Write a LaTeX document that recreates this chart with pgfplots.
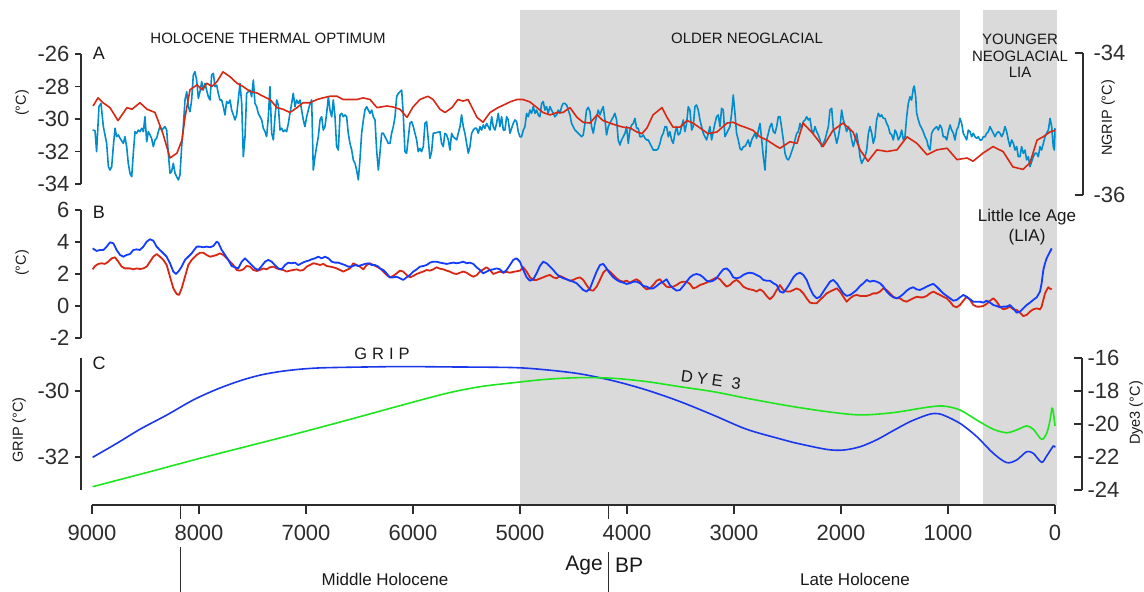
\documentclass[border=0pt]{standalone}
\usepackage{fontspec}
\setmainfont{Liberation Sans}
\usepackage{pgfplots}
\pgfplotsset{compat=1.18}
\definecolor{ablue}{RGB}{0,140,205}
\definecolor{ared}{RGB}{215,40,20}
\definecolor{bblue}{RGB}{20,60,255}
\definecolor{cblue}{RGB}{25,55,235}
\definecolor{cgreen}{RGB}{30,230,30}
\definecolor{shade}{RGB}{218,218,218}
\definecolor{axc}{RGB}{45,45,45}
\definecolor{txt}{RGB}{25,25,25}
\pgfplotsset{
  dat/.style={scale only axis, width=974pt, xmin=0, xmax=9103, x dir=reverse, hide axis, clip=false, anchor=north},
  sc/.style={scale only axis, width=10pt, xmin=0, xmax=1, axis x line=none,
    axis line style={-, line width=1.3pt, draw=axc},
    every outer y axis line/.append style={-},
    major tick style={line width=1.3pt, draw=axc},
    yticklabel style={font=\fontsize{22}{26}\selectfont, text=axc}},
}
\begin{document}
\begin{tikzpicture}
\path[use as bounding box] (0pt,0pt) rectangle (1144pt,592pt);

% base axis: shading and age axis
\begin{axis}[scale only axis, width=963pt, height=495pt, anchor=north, at={(573.5pt,582pt)},
  xmin=0, xmax=9000, x dir=reverse, ymin=0, ymax=1, axis y line=none, axis x line*=bottom,
  axis on top, clip=false,
  axis line style={-, line width=1.3pt, draw=axc}, every outer x axis line/.append style={-},
  xtick={0,1000,2000,3000,4000,5000,6000,7000,8000,9000},
  xticklabels={0,1000,2000,3000,4000,5000,6000,7000,8000,9000},
  extra x ticks={8170,4170}, extra x tick labels={,},
  extra x tick style={major tick length=14pt},
  tick align=outside, major tick length=9pt, major tick style={line width=1.3pt, draw=axc},
  xticklabel style={font=\fontsize{22}{26}\selectfont, text=axc, yshift=-8pt}]
\addplot[fill=shade, draw=none] coordinates {(5000,0) (5000,1) (890,1) (890,0)} -- cycle;
\addplot[fill=shade, draw=none] coordinates {(670,0) (670,1) (-20,1) (-20,0)} -- cycle;
\draw[line width=1.3pt, axc] (axis cs:8170,-0.085) -- (axis cs:8170,-0.18);
\draw[line width=1.3pt, axc] (axis cs:4170,-0.094) -- (axis cs:4170,-0.18);
\end{axis}

% Panel A data
\begin{axis}[dat, at={(568pt,538pt)}, height=130pt, ymin=-34, ymax=-26]
\addplot[ablue, line width=1.6pt, line join=round] coordinates {
(8994,-30.68)(8972,-30.72)(8957,-32.01)(8935,-29.24)(8916,-29.04)(8894,-30.47)(8863,-31.50)(8847,-32.93)(8832,-33.14)(8816,-32.93)(8801,-31.70)(8785,-30.57)(8770,-31.09)(8754,-30.98)(8738,-31.19)(8707,-31.50)(8692,-31.09)(8676,-31.70)(8661,-32.73)(8645,-33.34)(8629,-33.55)(8614,-32.11)(8598,-30.78)(8583,-30.88)(8567,-30.68)(8552,-30.78)(8536,-30.57)(8520,-30.78)(8505,-29.86)(8489,-31.40)(8474,-30.78)(8458,-30.98)(8443,-31.19)(8427,-31.70)(8411,-31.29)(8396,-31.19)(8380,-30.78)(8365,-30.47)(8349,-30.68)(8333,-30.57)(8318,-30.47)(8302,-30.68)(8287,-32.11)(8271,-33.34)(8256,-33.24)(8240,-32.73)(8224,-33.34)(8209,-33.55)(8193,-33.75)(8178,-33.45)(8162,-31.70)(8147,-30.47)(8131,-28.83)(8115,-28.32)(8100,-29.24)(8084,-29.55)(8069,-28.83)(8053,-27.29)(8038,-27.09)(8022,-27.60)(8006,-28.73)(7991,-28.32)(7975,-27.70)(7960,-28.22)(7944,-27.81)(7929,-28.22)(7913,-28.63)(7897,-28.83)(7882,-27.29)(7866,-27.19)(7851,-28.01)(7835,-27.91)(7820,-28.42)(7804,-28.83)(7788,-28.83)(7773,-29.24)(7757,-29.75)(7742,-28.93)(7726,-29.04)(7710,-28.83)(7695,-29.45)(7679,-29.75)(7664,-30.06)(7648,-29.75)(7633,-28.83)(7617,-27.81)(7601,-29.04)(7586,-32.32)(7570,-31.09)(7555,-28.42)(7539,-28.32)(7524,-28.22)(7508,-28.63)(7492,-27.60)(7477,-29.04)(7461,-29.24)(7446,-29.65)(7430,-29.86)(7414,-30.06)(7399,-30.57)(7383,-30.78)(7368,-31.09)(7352,-29.86)(7337,-28.01)(7321,-30.88)(7305,-31.29)(7290,-29.86)(7274,-28.83)(7259,-29.14)(7243,-30.68)(7228,-30.57)(7212,-30.78)(7196,-30.68)(7181,-30.78)(7165,-30.27)(7150,-29.65)(7134,-29.04)(7119,-28.42)(7103,-29.24)(7087,-28.83)(7072,-29.04)(7056,-28.83)(7041,-29.45)(7025,-30.06)(7010,-30.47)(6994,-29.86)(6978,-29.45)(6963,-29.04)(6947,-28.83)(6932,-33.14)(6916,-32.32)(6901,-31.70)(6885,-31.09)(6869,-30.06)(6854,-29.86)(6838,-30.68)(6823,-30.47)(6807,-29.65)(6791,-28.63)(6776,-29.45)(6760,-29.86)(6745,-28.83)(6729,-29.86)(6714,-31.70)(6698,-31.91)(6682,-29.75)(6667,-29.65)(6651,-29.86)(6636,-29.75)(6620,-29.86)(6605,-30.88)(6589,-31.50)(6573,-31.91)(6558,-32.52)(6542,-32.73)(6527,-33.14)(6511,-33.75)(6496,-32.52)(6480,-30.88)(6464,-30.06)(6449,-29.45)(6433,-29.24)(6418,-29.45)(6402,-29.65)(6386,-29.45)(6371,-29.86)(6355,-30.06)(6340,-31.91)(6324,-33.14)(6309,-32.11)(6293,-30.88)(6277,-30.88)(6262,-31.09)(6246,-31.29)(6231,-31.50)(6215,-31.50)(6200,-30.88)(6184,-30.47)(6168,-29.86)(6153,-28.63)(6137,-28.42)(6122,-28.32)
(6106,-28.22)(6091,-29.75)(6075,-32.01)(6060,-32.11)(6029,-30.27)(6013,-30.16)(5997,-30.47)(5966,-31.29)(5951,-32.01)(5935,-31.81)(5920,-32.01)(5904,-31.70)(5888,-30.27)(5873,-30.16)(5857,-31.29)(5842,-32.42)(5826,-32.01)(5811,-30.88)(5779,-30.84)(5748,-30.78)(5733,-31.50)(5717,-31.70)(5702,-30.88)(5686,-30.98)(5670,-31.29)(5655,-31.91)(5639,-30.88)(5624,-31.09)(5592,-31.29)(5577,-30.88)(5561,-30.47)(5546,-29.75)(5530,-30.47)(5515,-30.88)(5499,-31.50)(5483,-32.11)(5468,-31.70)(5452,-30.88)(5437,-30.68)(5421,-30.57)(5406,-30.57)(5390,-30.88)(5374,-30.47)(5359,-30.68)(5343,-30.37)(5328,-30.57)(5312,-30.27)(5281,-30.68)(5265,-29.86)(5250,-30.47)(5234,-30.68)(5219,-30.27)(5203,-29.65)(5188,-30.47)(5172,-29.86)(5156,-30.68)(5141,-30.68)(5125,-29.86)(5110,-30.06)(5094,-30.88)(5063,-30.27)(5047,-30.06)(5032,-30.16)(5016,-30.78)(5001,-31.09)(4985,-31.09)(4969,-30.68)(4954,-30.47)(4938,-29.65)(4923,-29.86)(4907,-29.45)(4892,-29.65)(4876,-29.24)(4860,-29.65)(4845,-29.45)(4829,-29.75)(4814,-29.86)(4798,-29.04)(4783,-28.93)(4767,-29.45)(4752,-29.24)(4736,-29.65)(4720,-29.24)(4705,-29.45)(4689,-29.65)(4674,-29.86)(4658,-29.75)(4642,-29.45)(4627,-29.65)(4611,-29.24)(4596,-29.04)(4580,-29.04)(4564,-29.14)(4549,-29.45)(4533,-29.75)(4518,-30.27)(4502,-30.47)(4487,-30.68)(4471,-30.78)(4440,-30.98)(4424,-31.09)(4409,-30.98)(4393,-30.27)(4378,-29.45)(4362,-29.28)(4346,-29.55)(4331,-30.47)(4315,-30.88)(4300,-30.27)(4284,-29.86)(4269,-29.45)(4253,-29.75)(4237,-29.45)(4222,-29.24)(4206,-30.06)(4191,-30.98)(4175,-30.47)(4160,-30.27)(4144,-30.06)(4128,-29.86)(4113,-29.65)(4097,-30.06)(4082,-31.29)(4066,-31.60)(4051,-31.29)(4035,-31.09)(4019,-30.88)(4004,-30.47)(3988,-31.50)(3973,-30.68)(3957,-30.37)(3941,-30.27)(3926,-29.96)(3910,-30.57)(3895,-30.57)(3879,-31.09)(3864,-31.09)(3848,-30.98)(3832,-31.19)(3817,-31.29)(3801,-31.29)(3786,-31.50)(3770,-31.70)(3755,-31.91)(3723,-31.91)(3708,-31.81)(3692,-31.50)(3677,-31.09)(3661,-30.88)(3645,-30.47)(3630,-30.47)(3614,-31.09)(3599,-30.78)(3583,-31.29)(3568,-31.50)(3552,-30.88)(3536,-30.47)(3521,-30.98)(3505,-30.88)(3490,-30.47)(3474,-30.06)(3459,-30.78)(3443,-30.27)(3427,-29.24)(3412,-29.45)(3396,-30.68)(3381,-30.47)(3365,-29.24)(3350,-29.14)(3334,-29.45)(3318,-30.06)(3303,-30.47)(3287,-30.88)(3272,-31.09)(3256,-31.29)(3240,-30.88)(3225,-30.47)(3209,-31.29)(3194,-30.78)(3178,-30.27)(3163,-29.86)(3147,-29.75)(3131,-30.47)(3116,-29.34)(3100,-29.45)(3085,-31.09)(3069,-30.88)(3054,-30.68)(3038,-30.47)(3022,-29.65)(3007,-28.52)(2991,-29.65)(2976,-30.88)(2960,-31.29)(2944,-31.81)(2929,-31.91)(2913,-31.70)(2898,-31.70)(2882,-31.50)(2867,-31.29)(2851,-31.70)(2835,-31.29)(2820,-31.09)(2804,-30.88)(2789,-31.19)
(2757,-30.27)(2741,-31.29)(2726,-32.32)(2710,-33.14)(2695,-31.29)(2679,-30.88)(2664,-30.47)(2648,-30.27)(2632,-30.78)(2617,-30.88)(2601,-30.47)(2586,-29.86)(2570,-29.86)(2554,-30.57)(2539,-31.29)(2523,-32.11)(2508,-32.42)(2492,-32.52)(2477,-32.32)(2461,-32.01)(2445,-31.70)(2430,-31.29)(2414,-30.88)(2399,-30.78)(2383,-30.27)(2368,-30.57)(2352,-30.16)(2336,-30.06)(2321,-29.86)(2305,-30.06)(2290,-29.96)(2274,-30.68)(2259,-30.88)(2243,-30.47)(2227,-30.78)(2212,-30.98)(2196,-31.29)(2181,-31.70)(2165,-31.50)(2150,-31.29)(2134,-30.88)(2118,-30.47)(2103,-29.45)(2087,-29.34)(2072,-30.57)(2056,-30.98)(2040,-31.50)(2025,-31.09)(2009,-30.47)(1994,-29.45)(1978,-30.06)(1963,-30.37)(1947,-30.78)(1931,-30.47)(1916,-30.68)(1900,-31.29)(1885,-31.70)(1869,-31.29)(1854,-30.88)(1838,-31.50)(1822,-32.32)(1807,-32.73)(1791,-32.52)(1776,-32.32)(1760,-31.91)(1744,-30.88)(1729,-30.47)(1713,-30.88)(1698,-31.50)(1682,-31.09)(1667,-30.06)(1651,-29.65)(1635,-29.86)(1620,-29.75)(1604,-29.96)(1589,-29.96)(1573,-30.27)(1558,-30.47)(1542,-30.88)(1526,-30.98)(1511,-31.29)(1495,-30.68)(1480,-30.88)(1464,-31.29)(1449,-31.09)(1433,-30.68)(1417,-31.29)(1402,-31.09)(1386,-29.86)(1371,-29.04)(1355,-28.63)(1340,-28.83)(1324,-28.11)(1315,-27.97)(1302,-28.63)(1293,-29.65)(1277,-30.06)(1262,-30.37)(1246,-30.57)(1231,-30.78)(1215,-31.09)(1199,-31.29)(1184,-31.70)(1168,-31.91)(1153,-30.88)(1137,-30.68)(1122,-30.57)(1106,-30.47)(1090,-30.68)(1075,-30.37)(1059,-30.57)(1044,-31.09)(1028,-31.09)(1012,-31.29)(997,-30.78)(981,-30.37)(966,-30.68)(950,-30.88)(935,-31.29)(919,-30.68)(903,-30.47)(888,-29.96)(872,-30.27)(857,-30.88)(841,-31.09)(826,-31.29)(810,-30.68)(794,-30.78)(779,-31.09)(763,-30.88)(748,-31.09)(732,-31.19)(717,-31.09)(701,-31.29)(685,-31.29)(670,-31.09)(654,-31.09)(639,-30.88)(623,-30.78)(607,-30.47)(592,-30.68)(576,-30.88)(561,-31.09)(545,-30.88)(530,-30.78)(514,-30.88)(498,-31.09)(483,-30.88)(467,-30.47)(452,-30.78)(436,-31.29)(421,-31.70)(405,-31.29)(389,-31.50)(374,-31.91)(358,-31.70)(343,-32.32)(327,-32.32)(312,-31.70)(296,-32.11)(280,-31.91)(265,-32.52)(249,-32.32)(234,-32.93)(218,-32.63)(203,-32.32)(187,-32.11)(171,-32.11)(156,-32.32)(140,-31.70)(125,-31.91)(109,-31.50)(93,-31.09)(78,-30.88)(62,-30.68)(46,-29.96)(31,-30.47)(16,-31.70)(6,-31.91)(0,-30.57)};
\addplot[ared, line width=1.6pt, line join=round] coordinates {
(8990,-29.2)(8944,-28.7)(8897,-29.0)(8832,-29.3)(8757,-30.1)(8673,-29.3)(8626,-29.4)(8552,-29.0)(8486,-29.4)(8411,-29.6)(8337,-30.9)(8271,-32.4)(8206,-32.1)(8159,-31.3)(8131,-29.9)(8084,-28.2)(8019,-27.9)(7972,-28.2)(7925,-27.8)(7879,-28.0)(7832,-27.7)(7776,-27.1)(7710,-27.4)(7645,-27.8)(7589,-28.0)(7524,-28.3)(7458,-28.4)(7402,-28.6)(7337,-28.8)(7271,-29.3)(7215,-29.4)(7150,-29.6)(7084,-29.3)(7028,-29.0)(6963,-29.0)(6897,-28.8)(6841,-28.7)(6776,-28.6)(6710,-28.6)(6654,-28.8)(6589,-28.8)(6523,-28.8)(6467,-28.7)(6402,-28.8)(6337,-29.3)(6243,-29.2)(6187,-29.26)(6122,-29.4)(6056,-29.9)(6000,-29.26)(5935,-28.8)(5860,-28.6)(5813,-28.8)(5748,-29.4)(5701,-29.6)(5636,-29.3)(5580,-28.8)(5533,-28.9)(5486,-28.8)(5402,-29.9)(5346,-30.2)(5280,-29.6)(5206,-29.3)(5140,-29.1)(5094,-28.95)(5028,-28.8)(4972,-28.8)(4907,-28.95)(4841,-29.3)(4785,-29.6)(4720,-29.75)(4654,-29.6)(4598,-29.6)(4533,-29.3)(4467,-29.9)(4411,-30.2)(4346,-30.25)(4280,-29.75)(4224,-30.1)(4159,-30.25)(4093,-30.4)(4037,-30.5)(3972,-30.55)(3907,-30.8)(3860,-30.9)(3813,-30.55)(3757,-29.75)(3673,-29.3)(3626,-29.9)(3570,-30.5)(3505,-30.5)(3439,-30.1)(3383,-30.25)(3318,-30.55)(3243,-30.9)(3159,-30.8)(3065,-30.25)(3009,-30.2)(2944,-30.4)(2879,-30.55)(2822,-30.7)(2757,-31.1)(2692,-31.3)(2598,-31.7)(2570,-31.8)(2477,-31.4)(2411,-31.5)(2355,-30.25)(2262,-30.9)(2168,-31.7)(2075,-30.7)(1981,-30.25)(1888,-30.8)(1822,-31.9)(1748,-32.6)(1664,-31.9)(1570,-32.0)(1477,-31.9)(1383,-31.1)(1290,-31.5)(1196,-32.2)(1103,-31.9)(1009,-31.8)(916,-32.5)(822,-32.4)(766,-32.6)(673,-32.1)(579,-31.7)(486,-32.0)(393,-32.95)(299,-33.1)(234,-32.7)(168,-31.3)(112,-31.1)(47,-30.8)(0,-30.7)};
\end{axis}

% Panel B data
\begin{axis}[dat, at={(568pt,382pt)}, height=128pt, ymin=-2, ymax=6]
\addplot[ared, line width=1.8pt, line join=round] coordinates {
(8994,2.29)(8972,2.50)(8941,2.63)(8910,2.67)(8879,2.63)(8848,2.77)(8816,2.98)(8785,3.04)(8754,2.77)(8723,2.46)(8692,2.35)(8645,2.35)(8614,2.29)(8583,2.35)(8552,2.31)(8520,2.35)(8489,2.46)(8458,2.77)(8427,3.08)(8396,3.25)(8365,3.08)(8333,2.88)(8302,2.56)(8271,1.83)(8240,1.10)(8209,0.75)(8187,0.69)(8162,1.10)(8131,1.83)(8100,2.56)(8069,2.88)(8022,3.19)(7991,3.33)(7960,3.33)(7929,3.19)(7897,3.08)(7866,3.13)(7835,3.19)(7804,3.29)(7773,3.19)(7742,2.98)(7710,2.77)(7679,2.56)(7648,2.25)(7617,2.21)(7586,2.29)(7555,2.50)(7524,2.46)(7492,2.25)(7461,2.19)(7430,2.25)(7399,2.35)(7368,2.29)(7337,2.42)(7305,2.46)(7274,2.35)(7243,2.29)(7212,2.25)(7181,2.15)(7150,2.21)(7119,2.25)(7087,2.29)(7056,2.21)(7025,2.25)(6994,2.46)(6963,2.56)(6932,2.67)(6901,2.63)(6869,2.56)(6838,2.63)(6807,2.50)(6776,2.46)(6745,2.42)(6714,2.35)(6682,2.25)(6651,2.15)(6620,2.25)(6589,2.35)(6558,2.67)(6527,2.56)(6496,2.46)(6464,2.29)(6433,2.56)(6402,2.67)(6371,2.56)(6340,2.46)
(6309,2.35)(6278,2.15)(6247,1.94)(6216,1.79)(6184,1.88)(6153,2.04)(6122,2.21)(6091,2.15)(6060,1.94)(6029,1.79)(5997,1.88)(5966,2.00)(5935,2.08)(5904,2.15)(5873,2.25)(5842,2.21)(5811,2.29)(5779,2.42)(5748,2.33)(5717,2.29)(5686,2.21)(5655,2.15)(5624,2.04)(5592,2.00)(5561,2.08)(5530,2.15)(5499,2.08)(5468,1.94)(5437,1.83)(5406,1.92)(5374,2.15)(5343,2.29)(5312,2.42)(5281,2.25)(5250,2.00)(5219,2.08)(5188,2.15)(5156,2.08)(5125,2.13)(5094,2.08)(5063,2.13)(5032,2.17)(5001,2.21)(4969,2.42)(4938,2.15)(4907,1.79)(4876,1.63)(4845,1.63)(4814,1.71)(4783,1.79)(4752,1.88)(4720,1.94)(4689,1.79)(4658,1.73)(4627,1.88)(4596,1.79)(4564,1.67)(4533,1.58)(4502,1.63)(4471,1.73)(4440,1.79)(4409,1.63)(4378,1.31)(4346,1.00)(4315,0.96)(4284,1.21)(4253,1.63)(4222,2.08)(4191,2.29)(4160,2.15)(4128,1.94)(4097,1.73)(4066,1.58)(4035,1.52)(4004,1.58)(3973,1.46)(3941,1.58)(3910,1.67)(3879,1.52)(3848,1.21)(3817,1.04)(3786,1.10)(3755,1.31)(3723,1.58)(3692,1.67)(3661,1.42)(3630,1.21)(3599,1.17)(3568,1.21)(3536,1.31)(3505,1.46)(3474,1.52)(3443,1.52)(3412,1.38)(3381,1.10)(3350,1.17)(3318,1.31)(3287,1.38)(3256,1.46)(3225,1.58)(3194,1.67)(3163,1.79)(3131,1.67)(3100,1.42)(3069,1.21)(3038,1.31)(3007,1.52)(2976,1.63)(2944,1.46)(2913,1.21)(2882,1.10)(2851,1.04)(2820,1.00)(2789,0.90)
(2757,1.04)(2726,0.90)(2695,0.63)(2664,0.42)(2632,0.63)(2601,1.00)(2570,1.31)(2539,1.00)(2508,0.90)(2477,0.90)(2445,1.00)(2414,1.10)(2383,1.00)(2352,0.79)(2321,0.48)(2290,0.21)(2259,0.17)(2227,0.17)(2196,0.38)(2165,0.58)(2134,0.79)(2103,0.90)(2072,1.00)(2040,1.10)(2009,0.90)(1978,0.58)(1947,0.27)(1916,0.48)(1885,0.63)(1854,0.69)(1822,0.63)(1791,0.63)(1760,0.63)(1729,0.69)(1698,0.79)(1667,0.79)(1635,0.90)(1604,1.10)(1573,1.00)(1542,0.79)(1511,0.58)(1480,0.48)(1449,0.48)(1417,0.33)(1386,0.27)(1355,0.38)(1324,0.48)(1293,0.58)(1262,0.54)(1231,0.54)(1199,0.63)(1168,0.79)(1137,0.90)(1106,0.79)(1075,0.69)(1044,0.58)(1012,0.48)(981,0.27)(950,0.00)(919,-0.08)(888,0.06)(857,0.33)(826,0.58)(794,0.38)(763,0.06)(732,-0.04)(701,-0.04)(670,0.00)(639,0.13)(607,0.33)(576,0.48)(545,0.27)(514,-0.04)(483,-0.21)(452,-0.15)(421,-0.04)(389,-0.21)(358,-0.25)(327,-0.42)(296,-0.63)(265,-0.56)(234,-0.35)(203,-0.21)(171,-0.15)(140,-0.21)(125,-0.04)(109,0.38)(93,0.79)(78,1.00)(62,1.17)(46,1.08)(31,1.04)};
\addplot[bblue, line width=1.8pt, line join=round] coordinates {
(8994,3.60)(8957,3.44)(8925,3.50)(8894,3.50)(8863,3.71)(8832,3.98)(8801,3.92)(8770,3.50)(8738,3.19)(8707,3.08)(8676,3.19)(8645,3.25)(8614,3.50)(8583,3.54)(8552,3.50)(8520,3.71)(8489,4.02)(8458,4.17)(8427,4.08)(8396,3.71)(8365,3.50)(8333,3.29)(8302,3.08)(8271,2.67)(8240,2.15)(8215,2.00)(8193,2.15)(8162,2.46)(8131,2.88)(8100,3.08)(8069,3.29)(8022,3.71)(7991,3.71)(7960,3.67)(7929,3.71)(7897,3.67)(7866,3.75)(7835,4.02)(7820,3.96)(7788,3.50)(7757,3.19)(7726,2.88)(7695,2.50)(7664,2.42)(7633,2.35)(7601,2.77)(7570,2.98)(7539,2.77)(7508,2.56)(7477,2.35)(7446,2.25)(7414,2.50)(7383,2.77)(7352,2.88)(7321,2.77)(7290,2.56)(7259,2.35)(7228,2.29)(7196,2.56)(7165,2.71)(7134,2.67)(7103,2.71)(7072,2.56)(7041,2.67)(7010,2.77)(6978,2.83)(6947,2.92)(6916,2.98)(6885,3.08)(6854,2.98)(6823,3.08)(6791,2.98)(6760,2.77)(6729,2.71)(6698,2.71)(6667,2.63)(6636,2.56)(6605,2.46)(6573,2.46)(6542,2.56)(6511,2.50)(6480,2.56)(6449,2.63)(6418,2.67)(6386,2.56)(6355,2.56)(6324,2.46)
(6309,2.35)(6278,2.25)(6247,2.04)(6216,1.79)(6184,1.79)(6153,1.83)(6122,1.73)(6091,1.63)(6060,1.79)(6029,1.94)(5997,2.15)(5966,2.29)(5935,2.46)(5904,2.50)(5873,2.56)(5842,2.71)(5811,2.77)(5779,2.77)(5748,2.71)(5717,2.67)(5686,2.63)(5655,2.67)(5624,2.71)(5592,2.67)(5561,2.71)(5530,2.77)(5499,2.67)(5468,2.71)(5437,2.63)(5406,2.42)(5374,2.25)(5343,2.04)(5312,2.15)(5281,2.25)(5250,2.29)(5219,2.35)(5188,2.29)(5156,2.08)(5125,2.25)(5094,2.56)(5063,2.88)(5032,2.98)(5001,2.77)(4969,2.25)(4938,1.79)(4907,1.58)(4876,1.67)(4845,2.04)(4814,2.50)(4783,2.77)(4752,2.67)(4720,2.46)(4689,2.25)(4658,2.00)(4627,1.83)(4596,1.73)(4564,1.67)(4533,1.58)(4502,1.52)(4471,1.42)(4440,1.21)(4409,1.00)(4378,0.90)(4346,1.10)(4315,1.63)(4284,2.15)(4253,2.56)(4222,2.63)(4191,2.35)(4160,2.04)(4128,1.79)(4097,1.63)(4066,1.52)(4035,1.46)(4004,1.38)(3973,1.42)(3941,1.52)(3910,1.52)(3879,1.42)(3848,1.25)(3817,1.21)(3786,1.10)(3755,1.10)(3723,1.25)(3692,1.42)(3661,1.52)(3630,1.67)(3599,1.31)(3568,1.10)(3536,0.96)(3505,1.00)(3474,1.25)(3443,1.52)(3412,1.79)(3381,1.94)(3350,2.00)(3318,1.94)(3287,1.79)(3256,1.58)(3225,1.52)(3194,1.58)(3163,1.73)(3131,2.04)(3100,2.29)(3069,2.35)(3038,2.15)(3007,1.79)(2976,1.73)(2944,1.79)(2913,1.94)(2882,2.04)(2851,2.08)(2820,2.04)(2789,1.94)
(2757,1.83)(2726,1.63)(2695,1.58)(2664,1.58)(2632,1.42)(2601,1.31)(2570,0.90)(2539,0.83)(2508,1.10)(2477,1.42)(2445,1.79)(2414,2.00)(2383,2.08)(2352,1.94)(2321,1.63)(2290,1.10)(2259,0.69)(2227,0.48)(2196,0.58)(2165,0.90)(2134,1.21)(2103,1.52)(2072,1.63)(2040,1.42)(2009,1.10)(1978,0.79)(1947,0.63)(1916,0.69)(1885,0.83)(1854,1.00)(1822,1.25)(1791,1.42)(1760,1.63)(1729,1.52)(1698,1.58)(1667,1.52)(1635,1.42)(1604,1.21)(1573,0.90)(1542,0.69)(1511,0.54)(1480,0.48)(1449,0.58)(1417,0.75)(1386,0.96)(1355,1.10)(1324,1.17)(1293,1.04)(1262,1.00)(1231,1.10)(1199,1.21)(1168,1.31)(1137,1.38)(1106,1.21)(1075,1.00)(1044,0.79)(1012,0.63)(981,0.48)(950,0.33)(919,0.38)(888,0.54)(857,0.69)(826,0.58)(794,0.42)(763,0.27)(732,0.27)(701,0.27)(670,0.21)(639,0.33)(607,0.21)(576,0.06)(545,0.00)(514,-0.08)(483,-0.04)(452,-0.04)(421,0.06)(389,-0.15)(358,-0.42)(327,-0.35)(296,-0.15)(265,0.06)(234,0.21)(203,0.38)(171,0.54)(140,0.90)(125,1.42)(109,2.25)(93,2.67)(78,2.98)(62,3.19)(46,3.40)(31,3.60)};
\end{axis}

% Panel C data: GRIP
\begin{axis}[dat, at={(568pt,234pt)}, height=132pt, ymin=-33, ymax=-29]
\addplot[cblue, line width=1.6pt, smooth, tension=0.5] coordinates {
(8994,-32.01)(8770,-31.59)(8552,-31.16)(8302,-30.73)(8053,-30.27)(7835,-29.95)(7617,-29.69)(7430,-29.52)(7243,-29.41)(7056,-29.34)(6869,-29.30)(6589,-29.28)(6122,-29.26)(5686,-29.27)(5063,-29.29)(4752,-29.36)(4440,-29.48)(4128,-29.69)(3817,-29.97)(3505,-30.32)(3194,-30.73)(2882,-31.16)(2571,-31.45)(2445,-31.56)(2134,-31.77)(1978,-31.79)(1822,-31.69)(1667,-31.48)(1511,-31.20)(1355,-30.93)(1199,-30.73)(1122,-30.68)(1044,-30.73)(888,-30.98)(732,-31.38)(576,-31.89)(452,-32.17)(358,-32.09)(265,-31.84)(203,-31.89)(125,-32.16)(78,-31.97)(16,-31.67)(0,-31.71)};
\end{axis}
% Panel C data: DYE 3
\begin{axis}[dat, at={(568pt,234pt)}, height=132pt, ymin=-24, ymax=-16]
\addplot[cgreen, line width=1.6pt, smooth, tension=0.5] coordinates {
(8994,-23.80)(8458,-22.89)(7991,-22.08)(7524,-21.31)(7056,-20.53)(6589,-19.72)(6122,-18.89)(5686,-18.14)(5374,-17.74)(5063,-17.50)(4752,-17.29)(4440,-17.19)(4128,-17.23)(3817,-17.43)(3505,-17.74)(3194,-18.04)(2882,-18.44)(2571,-18.81)(2445,-18.95)(2134,-19.25)(1822,-19.45)(1511,-19.31)(1199,-18.99)(1044,-18.91)(888,-19.15)(732,-19.76)(576,-20.32)(452,-20.53)(358,-20.36)(265,-20.12)(203,-20.32)(125,-20.93)(78,-20.57)(46,-19.76)(28,-19.05)(16,-19.25)(0,-20.12)};
\end{axis}

% y scales
\begin{axis}[sc, anchor=north west, at={(81pt,538pt)}, height=130pt, ymin=-34, ymax=-26,
  axis y line*=left, ytick={-34,-32,-30,-28,-26}, yticklabels={-34,-32,-30,-28,-26},
  tick align=outside, major tick length=6pt, yticklabel style={xshift=-2pt}]
\end{axis}
\begin{axis}[sc, anchor=north east, at={(1083pt,539pt)}, height=142pt, ymin=-36, ymax=-34,
  axis y line*=right, ytick={-36,-34}, yticklabels={-36,-34},
  tick align=inside, major tick length=8pt, yticklabel style={xshift=7pt}]
\end{axis}
\begin{axis}[sc, anchor=north west, at={(81pt,382pt)}, height=128pt, ymin=-2, ymax=6,
  axis y line*=left, ytick={-2,0,2,4,6}, yticklabels={-2,0,2,4,6},
  tick align=outside, major tick length=6pt, yticklabel style={xshift=-2pt}]
\end{axis}
\begin{axis}[sc, anchor=north west, at={(81pt,234pt)}, height=132pt, ymin=-33, ymax=-29,
  axis y line*=left, ytick={-32,-30}, yticklabels={-32,-30},
  tick align=outside, major tick length=6pt, yticklabel style={xshift=-2pt}]
\end{axis}
\begin{axis}[sc, anchor=north east, at={(1082pt,234pt)}, height=132pt, ymin=-24, ymax=-16,
  axis y line*=right, ytick={-24,-22,-20,-18,-16}, yticklabels={-24,-22,-20,-18,-16},
  tick align=inside, major tick length=8pt, yticklabel style={xshift=2pt}]
\end{axis}

% texts
\begin{scope}[every node/.style={text=txt, inner sep=0pt}]
\node[font=\fontsize{15}{18}\selectfont] at (268pt,554pt) {HOLOCENE THERMAL OPTIMUM};
\node[font=\fontsize{15}{18}\selectfont] at (747pt,554pt) {OLDER NEOGLACIAL};
\node[font=\fontsize{15}{16.5}\selectfont, align=center] at (1020pt,536pt) {YOUNGER\\NEOGLACIAL\\LIA};
\node[font=\fontsize{18}{20}\selectfont] at (99pt,539pt) {A};
\node[font=\fontsize{18}{20}\selectfont] at (99pt,380pt) {B};
\node[font=\fontsize{18}{20}\selectfont] at (99pt,229pt) {C};
\node[font=\fontsize{14.5}{16}\selectfont, rotate=90] at (22pt,489pt) {(°C)};
\node[font=\fontsize{14.5}{16}\selectfont, rotate=90] at (22pt,329pt) {(°C)};
\node[font=\fontsize{14.5}{16}\selectfont, rotate=90] at (19pt,162pt) {GRIP (°C)};
\node[font=\fontsize{14.5}{16}\selectfont, rotate=90] at (1108pt,474pt) {NGRIP (°C)};
\node[font=\fontsize{14.5}{16}\selectfont, rotate=90] at (1136pt,179pt) {Dye3 (°C)};
\node[font=\fontsize{17}{20}\selectfont, align=center] at (1027pt,365pt) {Little Ice Age\\(LIA)};
\node[font=\fontsize{16.5}{18}\selectfont] at (382pt,238pt) {G\hspace{5pt}R\hspace{5pt}I\hspace{5pt}P};
\node[font=\fontsize{16.5}{18}\selectfont, rotate=-8] at (711pt,212pt) {D\hspace{4pt}Y\hspace{4pt}E\hspace{9pt}3};
\node[font=\fontsize{21}{24}\selectfont, anchor=east] at (603pt,27pt) {Age};
\node[font=\fontsize{21}{24}\selectfont, anchor=west] at (615pt,27pt) {BP};
\node[font=\fontsize{17}{20}\selectfont] at (385pt,13pt) {Middle Holocene};
\node[font=\fontsize{17}{20}\selectfont] at (855pt,13pt) {Late Holocene};
\end{scope}
\end{tikzpicture}
\end{document}
